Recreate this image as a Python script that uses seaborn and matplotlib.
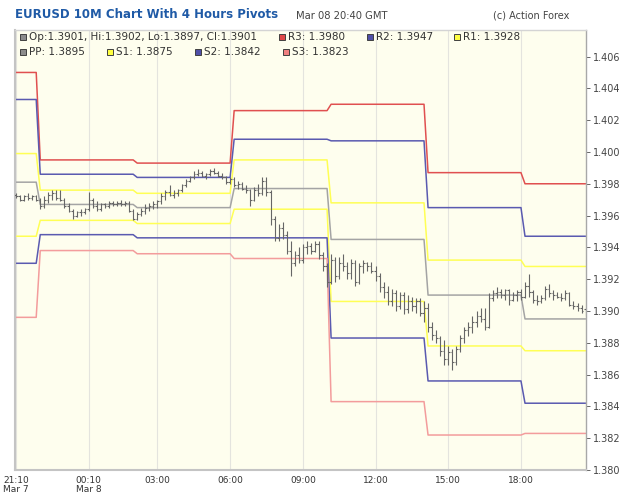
import matplotlib
matplotlib.use("Agg")
import matplotlib.pyplot as plt
import numpy as np
import pandas as pd
import seaborn as sns

# 10 minute EURUSD bars, 21:10 Mar 7 .. 20:40 Mar 8
bar_open = [
    1.3973, 1.3972, 1.3970, 1.3972, 1.3971, 1.3972, 1.3970, 1.3966, 1.3970, 1.3973,
    1.3974, 1.3971, 1.3970, 1.3966, 1.3963, 1.3960, 1.3962, 1.3962, 1.3964, 1.3970,
    1.3966, 1.3964, 1.3967, 1.3966, 1.3968, 1.3967, 1.3968, 1.3967, 1.3968, 1.3963,
    1.3958, 1.3961, 1.3963, 1.3965, 1.3966, 1.3967, 1.3969, 1.3972, 1.3975, 1.3973,
    1.3974, 1.3976, 1.3979, 1.3982, 1.3984, 1.3986, 1.3987, 1.3985, 1.3986, 1.3988,
    1.3987, 1.3985, 1.3984, 1.3981, 1.3983, 1.3979, 1.3980, 1.3977, 1.3976, 1.3970,
    1.3976, 1.3974, 1.3982, 1.3975, 1.3958, 1.3946, 1.3952, 1.3948, 1.3938, 1.3930,
    1.3935, 1.3932, 1.3940, 1.3941, 1.3938, 1.3942, 1.3935, 1.3928, 1.3918, 1.3932,
    1.3922, 1.3930, 1.3928, 1.3924, 1.3930, 1.3918, 1.3928, 1.3930, 1.3928, 1.3925,
    1.3922, 1.3915, 1.3912, 1.3906, 1.3911, 1.3903, 1.3910, 1.3901, 1.3906, 1.3903,
    1.3906, 1.3899, 1.3902, 1.3890, 1.3885, 1.3883, 1.3875, 1.3870, 1.3874, 1.3868,
    1.3876, 1.3883, 1.3888, 1.3890, 1.3893, 1.3897, 1.3895, 1.3890, 1.3908, 1.3911,
    1.3912, 1.3910, 1.3913, 1.3907, 1.3910, 1.3912, 1.3909, 1.3916, 1.3912, 1.3907,
    1.3906, 1.3908, 1.3914, 1.3911, 1.3910, 1.3909, 1.3908, 1.3911, 1.3904, 1.3903,
    1.3902, 1.3901,
]
bar_high = [
    1.3974, 1.3973, 1.3973, 1.3974, 1.3973, 1.3973, 1.3971, 1.3972, 1.3975, 1.3976,
    1.3976, 1.3976, 1.3971, 1.3968, 1.3964, 1.3963, 1.3964, 1.3965, 1.3975, 1.3971,
    1.3969, 1.3968, 1.3968, 1.3969, 1.3969, 1.3969, 1.3970, 1.3969, 1.3969, 1.3964,
    1.3962, 1.3965, 1.3967, 1.3968, 1.3969, 1.3970, 1.3974, 1.3976, 1.3979, 1.3976,
    1.3977, 1.3980, 1.3983, 1.3985, 1.3988, 1.3989, 1.3988, 1.3987, 1.3989, 1.3990,
    1.3988, 1.3987, 1.3985, 1.3984, 1.3984, 1.3982, 1.3981, 1.3979, 1.3977, 1.3978,
    1.3980, 1.3984, 1.3984, 1.3976, 1.3960, 1.3955, 1.3956, 1.3950, 1.3944, 1.3938,
    1.3940, 1.3942, 1.3944, 1.3943, 1.3944, 1.3944, 1.3937, 1.3930, 1.3936, 1.3934,
    1.3934, 1.3936, 1.3931, 1.3933, 1.3932, 1.3930, 1.3932, 1.3931, 1.3931, 1.3928,
    1.3924, 1.3918, 1.3916, 1.3914, 1.3913, 1.3912, 1.3912, 1.3910, 1.3909, 1.3908,
    1.3908, 1.3906, 1.3905, 1.3893, 1.3888, 1.3884, 1.3882, 1.3878, 1.3876, 1.3878,
    1.3885, 1.3890, 1.3893, 1.3897, 1.3900, 1.3902, 1.3902, 1.3911, 1.3913, 1.3915,
    1.3914, 1.3914, 1.3914, 1.3912, 1.3913, 1.3914, 1.3918, 1.3923, 1.3913, 1.3910,
    1.3910, 1.3916, 1.3917, 1.3913, 1.3912, 1.3911, 1.3913, 1.3912, 1.3906, 1.3905,
    1.3904, 1.3902,
]
bar_low = [
    1.3971, 1.3969, 1.3969, 1.3970, 1.3970, 1.3969, 1.3964, 1.3965, 1.3968, 1.3970,
    1.3970, 1.3969, 1.3965, 1.3962, 1.3958, 1.3959, 1.3960, 1.3961, 1.3963, 1.3965,
    1.3963, 1.3963, 1.3965, 1.3965, 1.3966, 1.3966, 1.3966, 1.3966, 1.3962, 1.3957,
    1.3957, 1.3960, 1.3961, 1.3963, 1.3964, 1.3965, 1.3967, 1.3970, 1.3972, 1.3971,
    1.3972, 1.3975, 1.3978, 1.3981, 1.3983, 1.3985, 1.3984, 1.3983, 1.3985, 1.3986,
    1.3984, 1.3983, 1.3980, 1.3980, 1.3978, 1.3977, 1.3976, 1.3974, 1.3966, 1.3969,
    1.3972, 1.3973, 1.3972, 1.3954, 1.3944, 1.3944, 1.3945, 1.3936, 1.3922, 1.3928,
    1.3930, 1.3930, 1.3936, 1.3936, 1.3937, 1.3933, 1.3925, 1.3915, 1.3917, 1.3918,
    1.3920, 1.3925, 1.3920, 1.3920, 1.3916, 1.3917, 1.3924, 1.3925, 1.3924, 1.3919,
    1.3912, 1.3908, 1.3904, 1.3903, 1.3900, 1.3901, 1.3898, 1.3899, 1.3900, 1.3899,
    1.3897, 1.3893, 1.3887, 1.3882, 1.3880, 1.3872, 1.3866, 1.3866, 1.3863, 1.3866,
    1.3874, 1.3880, 1.3884, 1.3886, 1.3890, 1.3893, 1.3888, 1.3889, 1.3906, 1.3908,
    1.3908, 1.3907, 1.3904, 1.3906, 1.3906, 1.3907, 1.3908, 1.3909, 1.3905, 1.3904,
    1.3905, 1.3907, 1.3909, 1.3907, 1.3908, 1.3906, 1.3907, 1.3903, 1.3901, 1.3900,
    1.3899, 1.3897,
]
bar_close = [
    1.3972, 1.3970, 1.3972, 1.3971, 1.3972, 1.3970, 1.3966, 1.3970, 1.3973, 1.3974,
    1.3971, 1.3970, 1.3966, 1.3963, 1.3960, 1.3962, 1.3962, 1.3964, 1.3970, 1.3966,
    1.3964, 1.3967, 1.3966, 1.3968, 1.3967, 1.3968, 1.3967, 1.3968, 1.3963, 1.3958,
    1.3961, 1.3963, 1.3965, 1.3966, 1.3967, 1.3969, 1.3972, 1.3975, 1.3973, 1.3974,
    1.3976, 1.3979, 1.3982, 1.3984, 1.3986, 1.3987, 1.3985, 1.3986, 1.3988, 1.3987,
    1.3985, 1.3984, 1.3981, 1.3983, 1.3979, 1.3980, 1.3977, 1.3976, 1.3970, 1.3976,
    1.3974, 1.3982, 1.3975, 1.3958, 1.3946, 1.3952, 1.3948, 1.3938, 1.3930, 1.3935,
    1.3932, 1.3940, 1.3941, 1.3938, 1.3942, 1.3935, 1.3928, 1.3918, 1.3932, 1.3922,
    1.3930, 1.3928, 1.3924, 1.3930, 1.3918, 1.3928, 1.3930, 1.3928, 1.3925, 1.3922,
    1.3915, 1.3912, 1.3906, 1.3911, 1.3903, 1.3910, 1.3901, 1.3906, 1.3903, 1.3906,
    1.3899, 1.3902, 1.3890, 1.3885, 1.3883, 1.3875, 1.3870, 1.3874, 1.3868, 1.3876,
    1.3883, 1.3888, 1.3890, 1.3893, 1.3897, 1.3895, 1.3890, 1.3908, 1.3911, 1.3912,
    1.3910, 1.3913, 1.3907, 1.3910, 1.3912, 1.3909, 1.3916, 1.3912, 1.3907, 1.3906,
    1.3908, 1.3914, 1.3911, 1.3910, 1.3909, 1.3908, 1.3911, 1.3904, 1.3903, 1.3902,
    1.3900, 1.3901,
]

# 4 hour pivot levels, one value per pivot period
block_sizes = [6, 24, 24, 24, 24, 24, 16]
pivot_r3 = [1.4050, 1.3995, 1.3993, 1.4026, 1.4030, 1.3987, 1.3980]
pivot_r2 = [1.4033, 1.3986, 1.3984, 1.4008, 1.4007, 1.3965, 1.3947]
pivot_r1 = [1.3999, 1.3976, 1.3974, 1.3995, 1.3968, 1.3932, 1.3928]
pivot_pp = [1.3981, 1.3967, 1.3965, 1.3977, 1.3945, 1.3910, 1.3895]
pivot_s1 = [1.3947, 1.3957, 1.3955, 1.3964, 1.3906, 1.3878, 1.3875]
pivot_s2 = [1.3930, 1.3948, 1.3946, 1.3946, 1.3883, 1.3856, 1.3842]
pivot_s3 = [1.3896, 1.3938, 1.3936, 1.3933, 1.3843, 1.3822, 1.3823]

x_tick_bars = [0, 18, 35, 53, 71, 89, 107, 125]
x_tick_labels = ["21:10\nMar 7", "00:10\nMar 8", "03:00", "06:00",
                 "09:00", "12:00", "15:00", "18:00"]
y_ticks = [1.380, 1.382, 1.384, 1.386, 1.388, 1.390, 1.392,
           1.394, 1.396, 1.398, 1.400, 1.402, 1.404, 1.406]

level_colors = {
    "R3": "#e05050",
    "R2": "#5a5ab0",
    "R1": "#ffff55",
    "PP": "#a4a4a4",
    "S1": "#ffff55",
    "S2": "#5a5ab0",
    "S3": "#f39c9c",
}

sns.set_theme(style="white")
plt.rcParams["font.family"] = ["DejaVu Sans"]

n_bars = len(bar_close)
bars = np.arange(n_bars)

pivot_frames = []
for name, vals in [("R3", pivot_r3), ("R2", pivot_r2), ("R1", pivot_r1),
                   ("PP", pivot_pp), ("S1", pivot_s1), ("S2", pivot_s2),
                   ("S3", pivot_s3)]:
    pivot_frames.append(pd.DataFrame({
        "bar": bars,
        "value": np.repeat(vals, block_sizes),
        "level": name,
    }))
pivots = pd.concat(pivot_frames, ignore_index=True)

fig = plt.figure(figsize=(6.25, 4.99), dpi=100)
fig.patch.set_facecolor("white")
ax = fig.add_axes([15 / 625, 29 / 499, 571 / 625, 440 / 499])
ax.set_facecolor("#fefeee")

sns.lineplot(data=pivots, x="bar", y="value", hue="level",
             palette=level_colors, estimator=None, legend=False,
             linewidth=1.1, ax=ax, zorder=2)

# OHLC bars
bar_color = "#666666"
ax.vlines(bars, bar_low, bar_high, color=bar_color, linewidth=0.8, zorder=4)
ax.hlines(bar_open, bars - 0.4, bars, color=bar_color, linewidth=0.8, zorder=4)
ax.hlines(bar_close, bars, bars + 0.4, color=bar_color, linewidth=0.8, zorder=4)

ax.set_xlim(-0.25, 141.1)
ax.set_ylim(1.380, 1.40767)
ax.set_xlabel("")
ax.set_ylabel("")

ax.set_xticks(x_tick_bars)
ax.set_xticklabels(x_tick_labels, fontsize=6.5, color="#333333", linespacing=1.1)
ax.yaxis.tick_right()
ax.set_yticks(y_ticks)
ax.set_yticklabels([f"{v:.3f}" for v in y_ticks], fontsize=7, color="#444444")
ax.tick_params(axis="y", direction="out", length=3, width=0.7, color="#666666", pad=2)
ax.tick_params(axis="x", direction="out", length=3, width=0.7, color="#888888", pad=1)

ax.grid(axis="x", color="#e4e4de", linewidth=0.8, zorder=0)
ax.grid(axis="y", visible=False)

for side in ["left", "bottom"]:
    ax.spines[side].set_color("#c4c4c4")
    ax.spines[side].set_linewidth(1.5)
ax.spines["right"].set_color("#a8a8a8")
ax.spines["right"].set_linewidth(1.0)
ax.spines["top"].set_color("#d4d4d4")
ax.spines["top"].set_linewidth(1.0)

# header
fig.text(15 / 625, 1 - 15 / 499, "EURUSD 10M Chart With 4 Hours Pivots",
         fontsize=8.5, fontweight="bold", color="#1f5aa6", va="center", ha="left")
fig.text(296 / 625, 1 - 16 / 499, "Mar 08 20:40 GMT",
         fontsize=7.2, color="#444444", va="center", ha="left")
fig.text(493 / 625, 1 - 16 / 499, "(c) Action Forex",
         fontsize=7.0, color="#444444", va="center", ha="left")

# legend rows
legend_items = [
    (23, 37, "#8c8c8c", "Op:1.3901, Hi:1.3902, Lo:1.3897, Cl:1.3901"),
    (282, 37, "#e04848", "R3: 1.3980"),
    (370, 37, "#5050a8", "R2: 1.3947"),
    (457, 37, "#ffff40", "R1: 1.3928"),
    (23, 52, "#8c8c8c", "PP: 1.3895"),
    (110, 52, "#ffff40", "S1: 1.3875"),
    (198, 52, "#5050a8", "S2: 1.3842"),
    (286, 52, "#f08080", "S3: 1.3823"),
]
for px, py, col, label in legend_items:
    fig.lines.append(plt.Line2D([px / 625], [1 - py / 499], marker="s",
                                markersize=4.5, markerfacecolor=col,
                                markeredgecolor="#404040", markeredgewidth=0.7,
                                linestyle="none", transform=fig.transFigure))
    fig.text((px + 6) / 625, 1 - py / 499, label, fontsize=7.5,
             color="#333333", va="center", ha="left")

fig.savefig("out.png", dpi=100, facecolor="white")
